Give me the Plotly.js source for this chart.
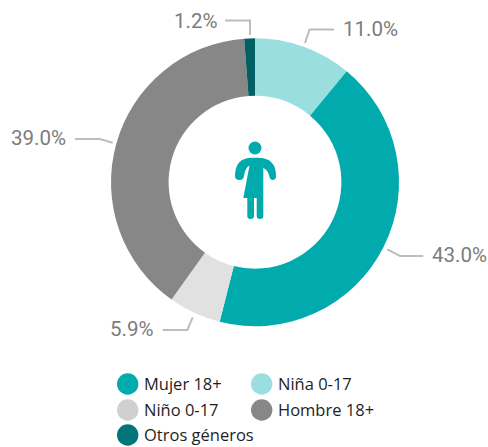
<!DOCTYPE html>
<html><head><meta charset="utf-8">
<script src="https://cdn.plot.ly/plotly-3.0.1.min.js"></script>
<style>html,body{margin:0;padding:0;background:#fff}</style></head>
<body><div id="c" style="width:488px;height:447px"></div>
<script>
const sliceNames=["Niña 0-17","Mujer 18+","Niño 0-17","Hombre 18+","Otros géneros"];
const sliceValues=[11.0,43.0,5.9,39.0,1.2];
const sliceColors=["#9ADEE0","#00AAAD","#E1E1E1","#878787","#005F62"];
const valueLabels=["11.0%","43.0%","5.9%","39.0%","1.2%"];
const legendNames=["Mujer 18+","Niña 0-17","Niño 0-17","Hombre 18+","Otros géneros"];
const legendColors=["#00AAAD","#9ADEE0","#D0D0D0","#878787","#00767A"];

const W=488,H=447;
const px=x=>x/W, py=y=>1-y/H;
const P=(x,y)=>px(x)+","+py(y);
const labelPos=[[370.5,29],[459.2,254.5],[131,329],[38.2,138],[195.5,20.5]];
const leaders=[[[334,29.5],[309.5,29.5],[305,43]],[[387.3,249.3],[400,256],[423.3,256]],[[162.7,330],[187.3,330],[192.7,317.3]],[[75,139],[100,139],[112.7,142.7]],[[225,20.5],[250,20.5],[250,35]]];
const legendPos=[[127.7,384],[261.7,384],[127.7,410],[261.7,410],[127.7,435]];

const shapes=[];
leaders.forEach(l=>shapes.push({type:"path",xref:"paper",yref:"paper",path:"M"+l.map(p=>P(p[0],p[1])).join(" L"),line:{color:"#BDBDBD",width:2}}));
legendPos.forEach((p,i)=>shapes.push({type:"circle",xref:"paper",yref:"paper",x0:px(p[0]-10.7),x1:px(p[0]+10.7),y0:py(p[1]+10.7),y1:py(p[1]-10.7),fillcolor:legendColors[i],line:{width:0}}));
const teal="#00AAAD";
shapes.push({type:"circle",xref:"paper",yref:"paper",x0:px(248.5),x1:px(261.5),y0:py(154.5),y1:py(141.5),fillcolor:teal,line:{width:0}});
const seq=[["M",235,176],["Q",235,157.7,252,157.7],["L",258,157.7],["Q",276,157.7,276,176],["Q",276,180,272.7,180],["Q",270,180,269.3,176],["Q",268,170,263.3,168],["L",263.3,216],["Q",263.3,219,260,219],["Q",256.7,219,256.7,216],["L",256.7,198],["L",254,198],["L",254,216],["Q",254,219,250.6,219],["Q",247.3,219,247.3,216],["L",247.3,198],["L",243.3,198],["L",249.5,165.5],["Q",245,168,244,176],["Q",243.5,180,239.5,180],["Q",235,180,235,176]];
const d=seq.map(s=>{let o=s[0];for(let i=1;i<s.length;i+=2)o+=(i>1?" ":"")+P(s[i],s[i+1]);return o;}).join(" ")+" Z";
shapes.push({type:"path",xref:"paper",yref:"paper",path:d,fillcolor:teal,line:{width:0}});

const annotations=[];
valueLabels.forEach((t,i)=>annotations.push({xref:"paper",yref:"paper",x:px(labelPos[i][0]),y:py(labelPos[i][1]),text:t,showarrow:false,xanchor:"center",yanchor:"middle",font:{family:"Roboto, sans-serif",size:20.5,color:"#7C7C7C"}}));
legendNames.forEach((t,i)=>annotations.push({xref:"paper",yref:"paper",x:px(legendPos[i][0]+14),y:py(legendPos[i][1]-0.7),text:t,showarrow:false,xanchor:"left",yanchor:"middle",font:{family:"Open Sans, sans-serif",size:16.5,color:"#1E1E1E"}}));

Plotly.newPlot("c",[{type:"pie",labels:sliceNames,values:sliceValues,sort:false,direction:"clockwise",rotation:0,hole:0.6,textinfo:"none",
 marker:{colors:sliceColors,line:{width:0}},domain:{x:[px(111),px(399)],y:[py(326.5),py(38)]},showlegend:false}],
 {width:W,height:H,margin:{l:0,r:0,t:0,b:0},paper_bgcolor:"#fff",showlegend:false,shapes,annotations},{displayModeBar:false});
</script></body></html>
